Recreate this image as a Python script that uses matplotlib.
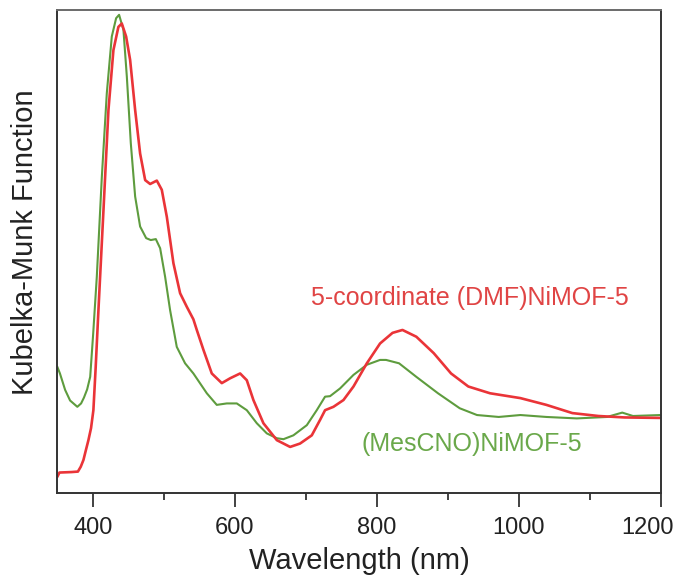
import matplotlib
matplotlib.use("Agg")
import matplotlib.pyplot as plt
from matplotlib.transforms import ScaledTranslation

plt.rcParams['font.family'] = ['Liberation Sans', 'DejaVu Sans']

# Kubelka-Munk spectra (arbitrary units)
dmf_nm = [350, 353, 370, 379, 383, 386.8, 390, 393.8, 397.5, 400.8, 404, 407.9, 415, 422, 429,
          436, 440.8, 446.9, 452.5, 459.6, 466.6, 473.7, 480.7, 490.1, 497.1, 504.2, 513.5,
          522.9, 532.3, 541.6, 546.4, 555.7, 567.5, 581.6, 593.3, 607.4, 616.8, 626.1, 640.2,
          659.1, 677.8, 691.8, 708.3, 720, 727, 738.8, 752.9, 767, 785.8, 804.4, 822, 836,
          855.5, 880, 904.4, 928.7, 959.3, 1002, 1038.6, 1075.2, 1111.8, 1148.6, 1200]
dmf_km = [0.034, 0.043, 0.044, 0.045, 0.055, 0.069, 0.088, 0.110, 0.135, 0.172, 0.260, 0.379,
          0.586, 0.793, 0.917, 0.965, 0.972, 0.945, 0.897, 0.793, 0.703, 0.648, 0.640, 0.647,
          0.628, 0.572, 0.476, 0.414, 0.386, 0.360, 0.338, 0.297, 0.248, 0.228, 0.238, 0.248,
          0.234, 0.193, 0.145, 0.110, 0.096, 0.103, 0.120, 0.152, 0.172, 0.179, 0.193, 0.221,
          0.269, 0.310, 0.332, 0.338, 0.324, 0.290, 0.248, 0.221, 0.207, 0.197, 0.183, 0.166,
          0.160, 0.157, 0.156]

mes_nm = [350, 353.7, 361, 368, 378.2, 383.5, 387.5, 392, 396.3, 400.5, 405.6, 412.7, 419.7,
          426.7, 432.8, 437, 443.1, 447.9, 453.5, 459.6, 466.6, 475.1, 481.6, 488.7, 494.8,
          501.8, 508.8, 518.2, 529.9, 541.6, 560.5, 574.5, 588.6, 602.7, 616.8, 630.9, 645,
          659.1, 668.4, 682.4, 701.3, 715.3, 727, 734, 748.1, 767, 785.8, 804.4, 812.9, 831.2,
          855.5, 886, 916.6, 940.9, 971.5, 1002, 1038.6, 1081.4, 1123.9, 1145.4, 1160.5, 1200]
mes_km = [0.262, 0.248, 0.214, 0.192, 0.179, 0.186, 0.198, 0.215, 0.241, 0.330, 0.448, 0.655,
          0.828, 0.945, 0.983, 0.990, 0.959, 0.862, 0.724, 0.614, 0.552, 0.528, 0.524, 0.526,
          0.507, 0.448, 0.379, 0.303, 0.269, 0.248, 0.207, 0.183, 0.186, 0.186, 0.172, 0.145,
          0.124, 0.114, 0.112, 0.120, 0.141, 0.172, 0.200, 0.201, 0.217, 0.245, 0.266, 0.276,
          0.276, 0.269, 0.241, 0.207, 0.176, 0.162, 0.158, 0.162, 0.158, 0.155, 0.158, 0.167,
          0.160, 0.162]

major_ticks = [400, 600, 800, 1000, 1200]
minor_ticks = [500, 700, 900, 1100]

red = '#ea3438'
green = '#5e9c3e'

fig = plt.figure(figsize=(6.79, 5.81), dpi=100)
ax = fig.add_axes([0.0844, 0.1509, 0.8891, 0.8319])

ax.plot(mes_nm, mes_km, color=green, lw=1.5, solid_joinstyle='round', solid_capstyle='round')
ax.plot(dmf_nm, dmf_km, color=red, lw=1.9, solid_joinstyle='round', solid_capstyle='round')

ax.set_xlim(350, 1200)
ax.set_ylim(0, 1)
ax.set_xticks(major_ticks)
ax.set_xticks(minor_ticks, minor=True)
ax.set_yticks([])
ax.tick_params(axis='x', which='major', direction='out', length=10, width=1.3,
               color='#333333', labelsize=17, pad=7, labelcolor='#222222')
ax.tick_params(axis='x', which='minor', direction='out', length=5, width=1.3, color='#333333')

# keep the last tick label inside the figure
last = ax.get_xticklabels()[-1]
last.set_transform(last.get_transform() + ScaledTranslation(-0.14, 0, fig.dpi_scale_trans))

for side in ['left', 'bottom', 'right']:
    ax.spines[side].set_color('#333333')
    ax.spines[side].set_linewidth(1.4)
ax.spines['top'].set_color('#6a6a6a')
ax.spines['top'].set_linewidth(1.4)

ax.set_xlabel('Wavelength (nm)', fontsize=21, color='#222222', labelpad=6)
ax.set_ylabel('Kubelka-Munk Function', fontsize=21, color='#222222')
ax.yaxis.set_label_coords(-0.030, 0.52)

ax.text(931, 0.404, '5-coordinate (DMF)NiMOF-5', color='#e04444', fontsize=18,
        ha='center', va='center')
ax.text(933, 0.102, '(MesCNO)NiMOF-5', color='#6aa84a', fontsize=18,
        ha='center', va='center')

fig.savefig('out.png', dpi=100)
